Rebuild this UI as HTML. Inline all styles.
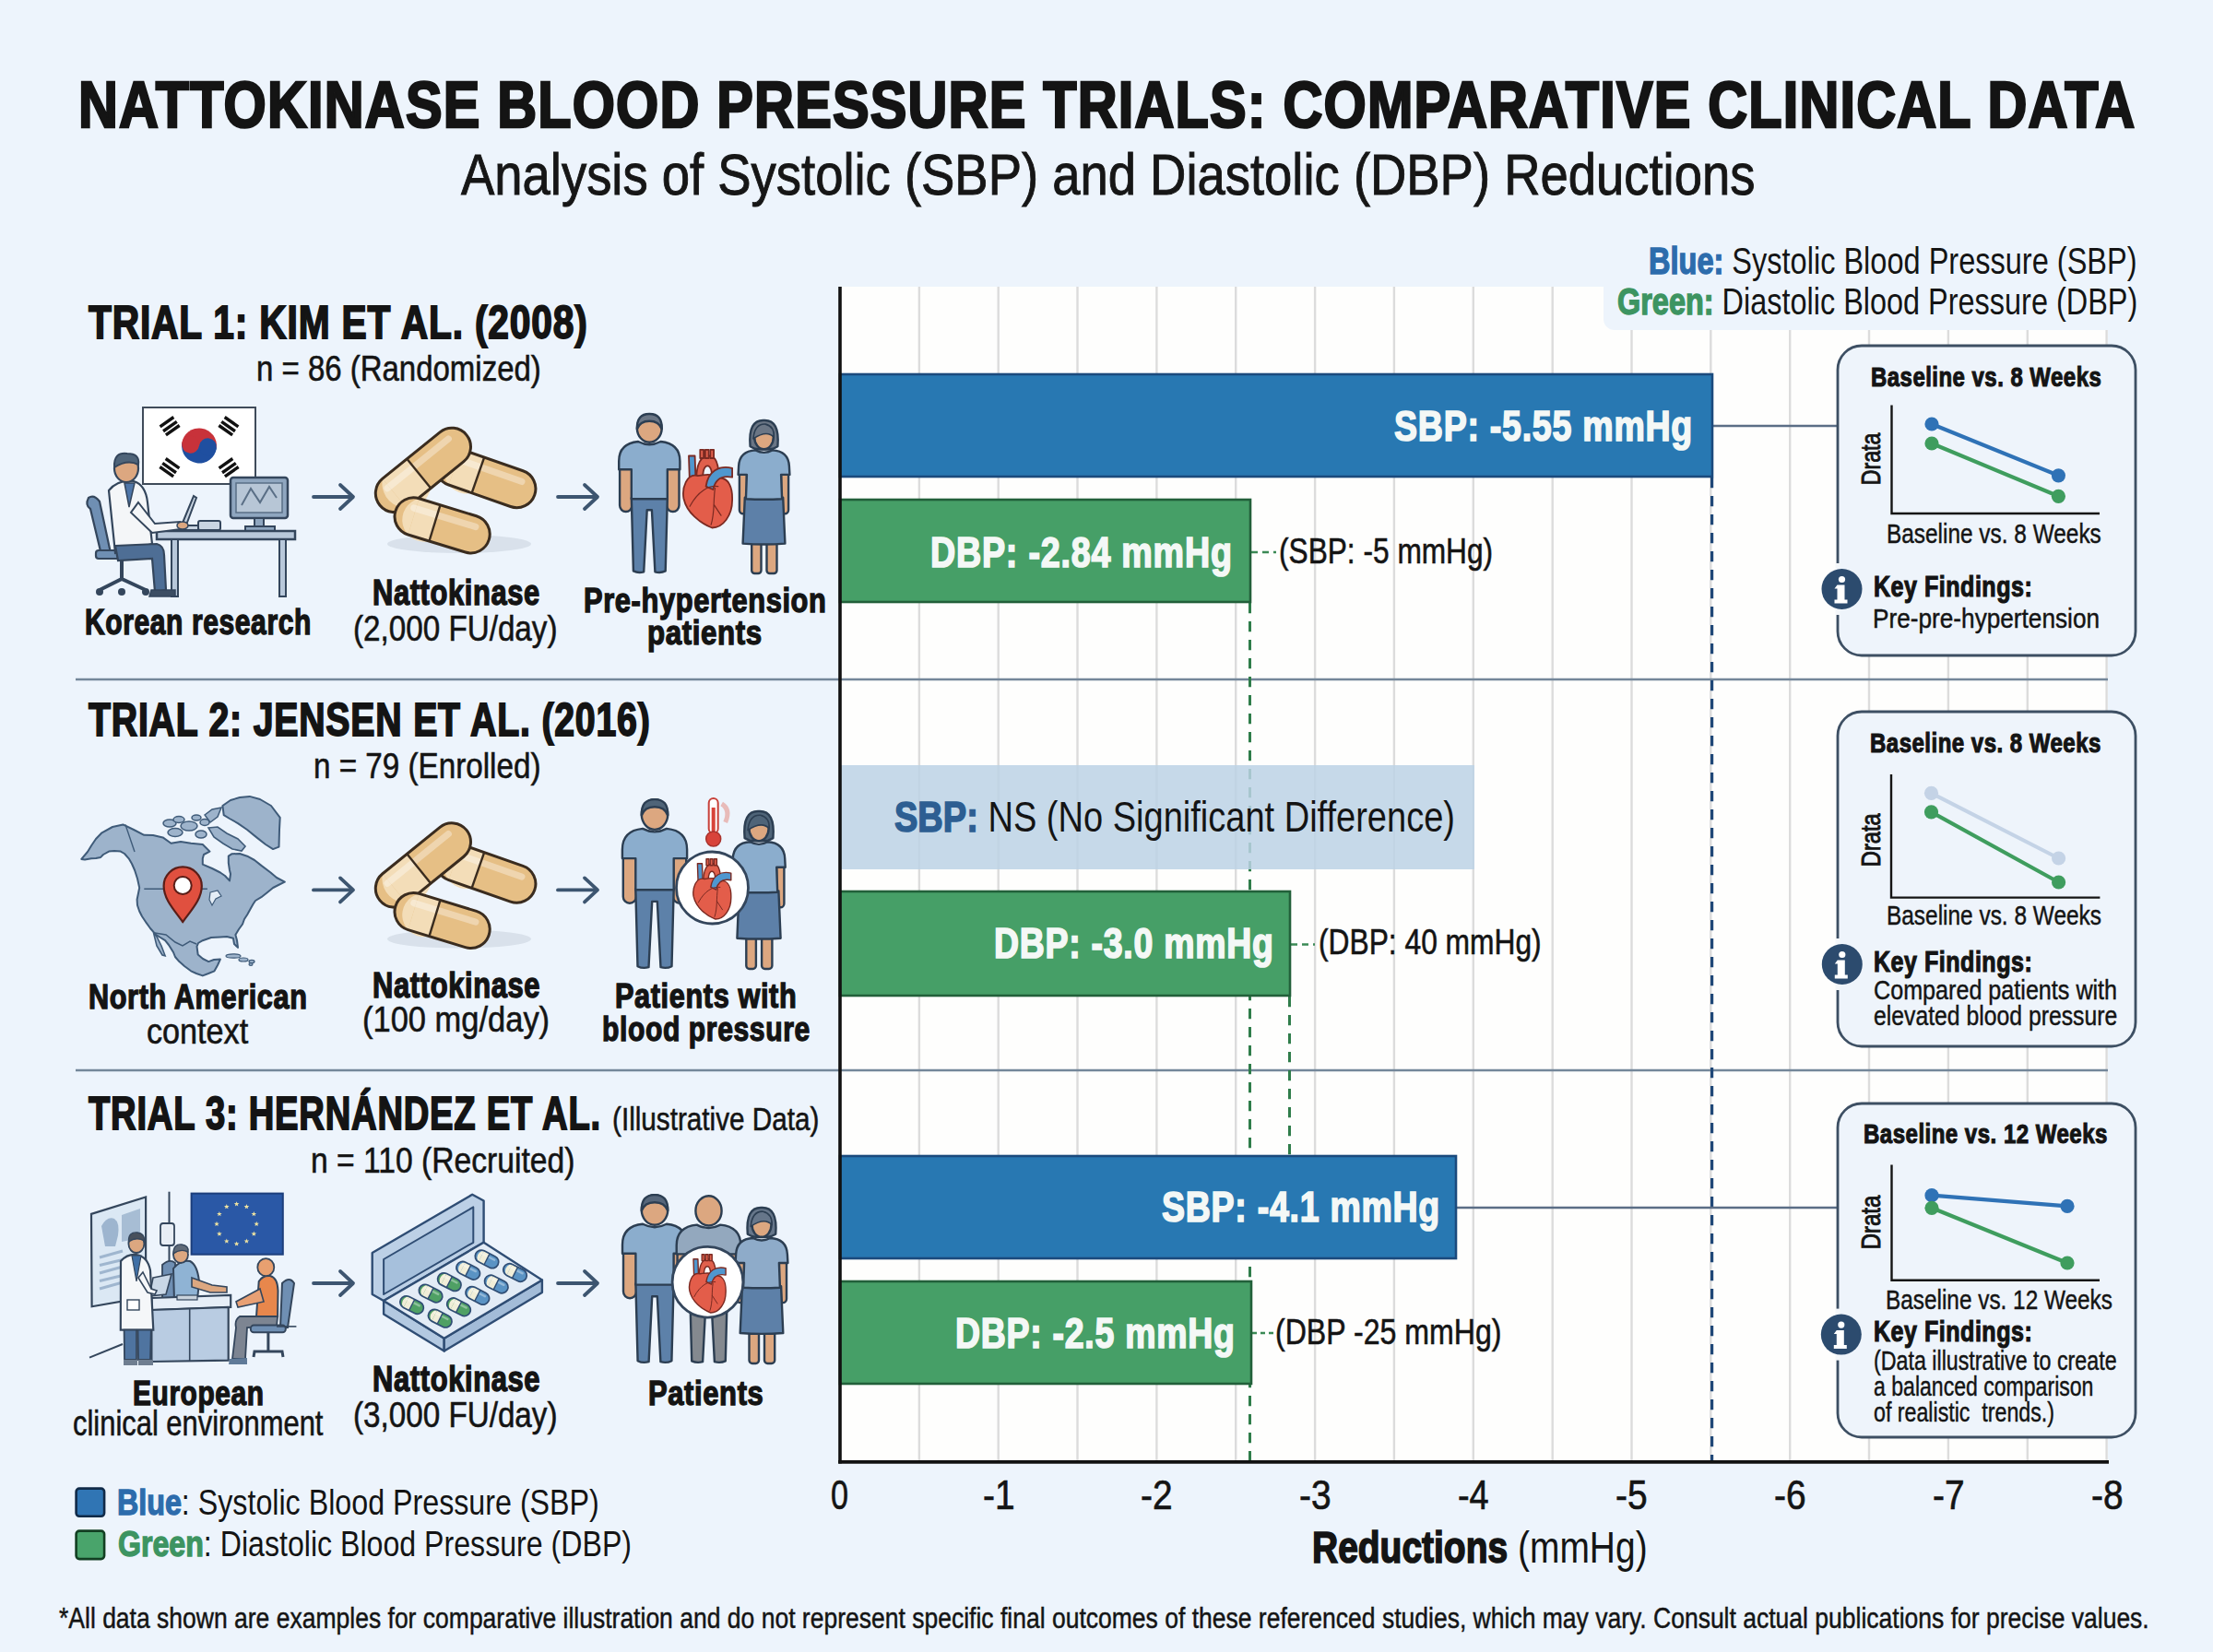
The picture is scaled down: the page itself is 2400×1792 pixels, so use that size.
<!DOCTYPE html>
<html><head><meta charset="utf-8"><style>
html,body{margin:0;padding:0;}
body{width:2400px;height:1792px;position:relative;overflow:hidden;background:#edf4fc;font-family:"Liberation Sans",sans-serif;}
.t{position:absolute;white-space:pre;line-height:1;transform-origin:0 0;}
svg{position:absolute;left:0;top:0;}
</style></head><body>
<svg width="2400" height="1792" viewBox="0 0 2400 1792">
<rect x="0.0" y="0.0" width="2400.0" height="1792.0" fill="#edf4fc"/>
<rect x="911.0" y="311.0" width="1375.0" height="1274.0" fill="#fefefd"/>
<rect x="1739.0" y="270.0" width="640.0" height="88.0" fill="#edf4fc" rx="12.0"/>
<line x1="996.9" y1="311.0" x2="996.9" y2="1585.0" stroke="#dcdcdc" stroke-width="2.4" stroke-linecap="butt"/>
<line x1="1082.7" y1="311.0" x2="1082.7" y2="1585.0" stroke="#dcdcdc" stroke-width="2.4" stroke-linecap="butt"/>
<line x1="1168.5" y1="311.0" x2="1168.5" y2="1585.0" stroke="#dcdcdc" stroke-width="2.4" stroke-linecap="butt"/>
<line x1="1254.4" y1="311.0" x2="1254.4" y2="1585.0" stroke="#dcdcdc" stroke-width="2.4" stroke-linecap="butt"/>
<line x1="1340.2" y1="311.0" x2="1340.2" y2="1585.0" stroke="#dcdcdc" stroke-width="2.4" stroke-linecap="butt"/>
<line x1="1426.1" y1="311.0" x2="1426.1" y2="1585.0" stroke="#dcdcdc" stroke-width="2.4" stroke-linecap="butt"/>
<line x1="1511.9" y1="311.0" x2="1511.9" y2="1585.0" stroke="#dcdcdc" stroke-width="2.4" stroke-linecap="butt"/>
<line x1="1597.8" y1="311.0" x2="1597.8" y2="1585.0" stroke="#dcdcdc" stroke-width="2.4" stroke-linecap="butt"/>
<line x1="1683.7" y1="311.0" x2="1683.7" y2="1585.0" stroke="#dcdcdc" stroke-width="2.4" stroke-linecap="butt"/>
<line x1="1769.5" y1="358.0" x2="1769.5" y2="1585.0" stroke="#dcdcdc" stroke-width="2.4" stroke-linecap="butt"/>
<line x1="1855.3" y1="358.0" x2="1855.3" y2="1585.0" stroke="#dcdcdc" stroke-width="2.4" stroke-linecap="butt"/>
<line x1="1941.2" y1="358.0" x2="1941.2" y2="1585.0" stroke="#dcdcdc" stroke-width="2.4" stroke-linecap="butt"/>
<line x1="2027.0" y1="358.0" x2="2027.0" y2="1585.0" stroke="#dcdcdc" stroke-width="2.4" stroke-linecap="butt"/>
<line x1="2112.9" y1="358.0" x2="2112.9" y2="1585.0" stroke="#dcdcdc" stroke-width="2.4" stroke-linecap="butt"/>
<line x1="2198.8" y1="358.0" x2="2198.8" y2="1585.0" stroke="#dcdcdc" stroke-width="2.4" stroke-linecap="butt"/>
<line x1="2284.6" y1="358.0" x2="2284.6" y2="1585.0" stroke="#dcdcdc" stroke-width="2.4" stroke-linecap="butt"/>
<line x1="82.0" y1="737.0" x2="2286.0" y2="737.0" stroke="#74879a" stroke-width="2.4" stroke-linecap="butt"/>
<line x1="82.0" y1="1161.0" x2="2286.0" y2="1161.0" stroke="#74879a" stroke-width="2.4" stroke-linecap="butt"/>
<line x1="1355.5" y1="654.0" x2="1355.5" y2="1585.0" stroke="#2f7d4a" stroke-width="3.0" stroke-linecap="butt" stroke-dasharray="11.2 8.8"/>
<line x1="1398.5" y1="1081.0" x2="1398.5" y2="1254.0" stroke="#2f7d4a" stroke-width="3.0" stroke-linecap="butt" stroke-dasharray="11.2 8.8"/>
<line x1="1856.6" y1="518.0" x2="1856.6" y2="1585.0" stroke="#1f4777" stroke-width="3.2" stroke-linecap="butt" stroke-dasharray="11.2 8.8"/>
<line x1="1857.0" y1="462.0" x2="1993.0" y2="462.0" stroke="#5b6e86" stroke-width="2.6" stroke-linecap="butt"/>
<line x1="1579.0" y1="1310.0" x2="1993.0" y2="1310.0" stroke="#5b6e86" stroke-width="2.6" stroke-linecap="butt"/>
<line x1="1357.0" y1="599.0" x2="1384.0" y2="599.0" stroke="#3b8a55" stroke-width="2.4" stroke-linecap="butt" stroke-dasharray="7 5"/>
<line x1="1400.0" y1="1024.5" x2="1426.0" y2="1024.5" stroke="#3b8a55" stroke-width="2.4" stroke-linecap="butt" stroke-dasharray="7 5"/>
<line x1="1358.0" y1="1446.0" x2="1382.0" y2="1446.0" stroke="#3b8a55" stroke-width="2.4" stroke-linecap="butt" stroke-dasharray="5 4"/>
<rect x="911.0" y="406.0" width="946.0" height="111.0" fill="#2878b2" stroke="#1b4a7d" stroke-width="2.6"/>
<rect x="911.0" y="542.0" width="445.0" height="111.0" fill="#469f67" stroke="#22603a" stroke-width="2.6"/>
<rect x="911.0" y="830.0" width="688.0" height="113.0" fill="#bcd2e5" opacity="0.85"/>
<rect x="911.0" y="967.0" width="488.0" height="113.0" fill="#469f67" stroke="#22603a" stroke-width="2.6"/>
<rect x="911.0" y="1254.0" width="668.0" height="111.0" fill="#2878b2" stroke="#1b4a7d" stroke-width="2.6"/>
<rect x="911.0" y="1390.0" width="446.0" height="111.0" fill="#469f67" stroke="#22603a" stroke-width="2.6"/>
<line x1="911.0" y1="311.0" x2="911.0" y2="1587.5" stroke="#111111" stroke-width="3.6" stroke-linecap="butt"/>
<line x1="909.2" y1="1585.8" x2="2287.0" y2="1585.8" stroke="#111111" stroke-width="3.8" stroke-linecap="butt"/>
<rect x="1993.0" y="375.0" width="323.0" height="336.0" fill="#eef4fb" rx="26.0" stroke="#3d4f63" stroke-width="2.8"/>
<rect x="1993.0" y="772.0" width="323.0" height="363.0" fill="#eef4fb" rx="26.0" stroke="#3d4f63" stroke-width="2.8"/>
<rect x="1993.0" y="1197.0" width="323.0" height="362.0" fill="#eef4fb" rx="26.0" stroke="#3d4f63" stroke-width="2.8"/>
<polyline points="2051.5,439.5 2051.5,557.0 2277.0,557.0" fill="none" stroke="#141414" stroke-width="2.4"/><line x1="2095.0" y1="460.0" x2="2232.4" y2="515.8" stroke="#2f72b6" stroke-width="4.2" stroke-linecap="round"/><circle cx="2095.0" cy="460.0" r="7.6" fill="#2f72b6"/><circle cx="2232.4" cy="515.8" r="7.6" fill="#2f72b6"/><line x1="2095.0" y1="481.0" x2="2232.4" y2="538.3" stroke="#3f9d5e" stroke-width="4.2" stroke-linecap="round"/><circle cx="2095.0" cy="481.0" r="7.6" fill="#3f9d5e"/><circle cx="2232.4" cy="538.3" r="7.6" fill="#3f9d5e"/>
<polyline points="2051.0,840.0 2051.0,973.6 2277.4,973.6" fill="none" stroke="#141414" stroke-width="2.4"/><line x1="2094.5" y1="860.3" x2="2232.6" y2="931.0" stroke="#c4d3e6" stroke-width="4.2" stroke-linecap="round"/><circle cx="2094.5" cy="860.3" r="7.6" fill="#c4d3e6"/><circle cx="2232.6" cy="931.0" r="7.6" fill="#c4d3e6"/><line x1="2094.5" y1="880.8" x2="2232.6" y2="957.0" stroke="#3f9d5e" stroke-width="4.2" stroke-linecap="round"/><circle cx="2094.5" cy="880.8" r="7.6" fill="#3f9d5e"/><circle cx="2232.6" cy="957.0" r="7.6" fill="#3f9d5e"/>
<polyline points="2051.5,1263.6 2051.5,1388.8 2277.0,1388.8" fill="none" stroke="#141414" stroke-width="2.4"/><line x1="2095.0" y1="1296.7" x2="2242.0" y2="1308.4" stroke="#2f72b6" stroke-width="4.2" stroke-linecap="round"/><circle cx="2095.0" cy="1296.7" r="7.6" fill="#2f72b6"/><circle cx="2242.0" cy="1308.4" r="7.6" fill="#2f72b6"/><line x1="2095.0" y1="1310.3" x2="2242.0" y2="1370.0" stroke="#3f9d5e" stroke-width="4.2" stroke-linecap="round"/><circle cx="2095.0" cy="1310.3" r="7.6" fill="#3f9d5e"/><circle cx="2242.0" cy="1370.0" r="7.6" fill="#3f9d5e"/>
<rect x="1990.5" y="611.0" width="5" height="56.0" fill="#f4f7fa"/><circle cx="1997.5" cy="639.0" r="22.0" fill="#2c4b6e"/><circle cx="1997.5" cy="628.5" r="3.6" fill="#ffffff"/><path d="M 1992.5 634.5 h 8 v 16 h 3 v 4 h -14 v -4 h 3 v -12 h -3 z" fill="#ffffff"/>
<rect x="1990.5" y="1018.0" width="5" height="56.0" fill="#f4f7fa"/><circle cx="1997.8" cy="1046.0" r="22.0" fill="#2c4b6e"/><circle cx="1997.8" cy="1035.5" r="3.6" fill="#ffffff"/><path d="M 1992.8 1041.5 h 8 v 16 h 3 v 4 h -14 v -4 h 3 v -12 h -3 z" fill="#ffffff"/>
<rect x="1990.5" y="1419.6" width="5" height="56.0" fill="#f4f7fa"/><circle cx="1996.8" cy="1447.6" r="22.0" fill="#2c4b6e"/><circle cx="1996.8" cy="1437.1" r="3.6" fill="#ffffff"/><path d="M 1991.8 1443.1 h 8 v 16 h 3 v 4 h -14 v -4 h 3 v -12 h -3 z" fill="#ffffff"/>
<rect x="82.6" y="1614.6" width="30.5" height="30.2" fill="#3075b4" rx="3.5" stroke="#102a48" stroke-width="2.6"/>
<rect x="82.6" y="1660.6" width="30.5" height="30.5" fill="#49a46b" rx="3.5" stroke="#123f22" stroke-width="2.6"/>
<g stroke="#3d5570" stroke-width="3.8" fill="none" stroke-linecap="round" stroke-linejoin="round"><line x1="340.0" y1="539.0" x2="382.0" y2="539.0"/><polyline points="369.0,526.0 383.0,539.0 369.0,552.0"/></g>
<g stroke="#3d5570" stroke-width="3.8" fill="none" stroke-linecap="round" stroke-linejoin="round"><line x1="605.0" y1="539.0" x2="647.0" y2="539.0"/><polyline points="634.0,526.0 648.0,539.0 634.0,552.0"/></g>
<g stroke="#3d5570" stroke-width="3.8" fill="none" stroke-linecap="round" stroke-linejoin="round"><line x1="340.0" y1="965.4" x2="382.0" y2="965.4"/><polyline points="369.0,952.4 383.0,965.4 369.0,978.4"/></g>
<g stroke="#3d5570" stroke-width="3.8" fill="none" stroke-linecap="round" stroke-linejoin="round"><line x1="605.0" y1="965.4" x2="647.0" y2="965.4"/><polyline points="634.0,952.4 648.0,965.4 634.0,978.4"/></g>
<g stroke="#3d5570" stroke-width="3.8" fill="none" stroke-linecap="round" stroke-linejoin="round"><line x1="340.0" y1="1392.0" x2="382.0" y2="1392.0"/><polyline points="369.0,1379.0 383.0,1392.0 369.0,1405.0"/></g>
<g stroke="#3d5570" stroke-width="3.8" fill="none" stroke-linecap="round" stroke-linejoin="round"><line x1="605.0" y1="1392.0" x2="647.0" y2="1392.0"/><polyline points="634.0,1379.0 648.0,1392.0 634.0,1405.0"/></g>
<rect x="155.0" y="442.0" width="122.0" height="83.0" fill="#ffffff" stroke="#3f4b5a" stroke-width="2.0"/><path d="M 197.0 483.5 A 19.0 19.0 0 0 1 235.0 483.5 Z" fill="#c8323a" transform="rotate(8 216.0 483.5)"/><path d="M 197.0 483.5 A 19.0 19.0 0 0 0 235.0 483.5 Z" fill="#1f4fa0" transform="rotate(8 216.0 483.5)"/><circle cx="206.5" cy="483.5" r="9.5" fill="#c8323a" transform="rotate(8 216.0 483.5)"/><circle cx="225.5" cy="483.5" r="9.5" fill="#1f4fa0" transform="rotate(8 216.0 483.5)"/><g transform="translate(184 462) rotate(-35)"><rect x="-9" y="-7" width="18" height="3.4" fill="#111"/><rect x="-9" y="-1" width="18" height="3.4" fill="#111"/><rect x="-9" y="4" width="18" height="3.4" fill="#111"/></g><g transform="translate(248 462) rotate(35)"><rect x="-9" y="-7" width="18" height="3.4" fill="#111"/><rect x="-9" y="-1" width="18" height="3.4" fill="#111"/><rect x="-9" y="4" width="18" height="3.4" fill="#111"/></g><g transform="translate(184 507) rotate(35)"><rect x="-9" y="-7" width="18" height="3.4" fill="#111"/><rect x="-9" y="-1" width="18" height="3.4" fill="#111"/><rect x="-9" y="4" width="18" height="3.4" fill="#111"/></g><g transform="translate(248 507) rotate(-35)"><rect x="-9" y="-7" width="18" height="3.4" fill="#111"/><rect x="-9" y="-1" width="18" height="3.4" fill="#111"/><rect x="-9" y="4" width="18" height="3.4" fill="#111"/></g><rect x="250.0" y="518.0" width="62.0" height="44.0" fill="#8fa6bf" rx="3.0" stroke="#34465c" stroke-width="2.5"/><rect x="256.0" y="524.0" width="50.0" height="32.0" fill="#b7c6d6" stroke="#5a6f86" stroke-width="1.5"/><path d="M 262 548 L 272 530 L 282 545 L 292 528 L 300 540" fill="none" stroke="#5a6f86" stroke-width="2"/><rect x="276.0" y="562.0" width="10.0" height="10.0" fill="#8fa6bf" stroke="#34465c" stroke-width="2.0"/><rect x="266.0" y="571.0" width="32.0" height="5.0" fill="#8fa6bf" stroke="#34465c" stroke-width="2.0"/><rect x="170.0" y="576.0" width="150.0" height="9.0" fill="#b8c8da" stroke="#34465c" stroke-width="2.5"/><rect x="186.0" y="585.0" width="7.0" height="62.0" fill="#b8c8da" stroke="#34465c" stroke-width="2.0"/><rect x="303.0" y="585.0" width="7.0" height="62.0" fill="#b8c8da" stroke="#34465c" stroke-width="2.0"/><rect x="215.0" y="565.0" width="24.0" height="10.0" fill="#c9d5e2" rx="2.0" stroke="#34465c" stroke-width="2.0"/><path d="M 196 572 L 210 538 L 213 540 L 201 572 Z" fill="#c9d5e2" stroke="#34465c" stroke-width="2"/><rect x="175.0" y="570.0" width="40.0" height="5.0" fill="#c9d5e2" stroke="#34465c" stroke-width="2.0"/><path d="M 98 552 Q 92 548 96 540 Q 102 536 108 544 L 120 600 L 110 602 Z" fill="#6f8fb3" stroke="#34465c" stroke-width="2.2"/><rect x="104.0" y="597.0" width="60.0" height="9.0" fill="#6f8fb3" rx="3.0" stroke="#34465c" stroke-width="2.2"/><line x1="132.0" y1="606.0" x2="132.0" y2="630.0" stroke="#34465c" stroke-width="4.0" stroke-linecap="butt"/><path d="M 108 640 L 132 628 L 158 640" fill="none" stroke="#34465c" stroke-width="4"/><circle cx="108" cy="642" r="4" fill="#34465c"/><circle cx="158" cy="642" r="4" fill="#34465c"/><circle cx="132" cy="642" r="4" fill="#34465c"/><path d="M 118 532 Q 128 520 145 522 Q 158 526 160 545 L 165 590 L 125 600 Z" fill="#f4f6f8" stroke="#34465c" stroke-width="2.2"/><path d="M 135 524 L 140 550 L 146 524 Z" fill="#4f76a8" stroke="#34465c" stroke-width="1.5"/><path d="M 150 545 L 168 568 L 195 566 L 196 574 L 165 578 L 142 556 Z" fill="#f4f6f8" stroke="#34465c" stroke-width="2"/><ellipse cx="198" cy="570" rx="6" ry="4" fill="#dca780" stroke="#34465c" stroke-width="1.5"/><path d="M 125 592 L 170 590 Q 178 592 178 602 L 180 640 L 168 642 L 165 606 L 128 608 Z" fill="#4e6e95" stroke="#34465c" stroke-width="2.2"/><path d="M 164 640 L 190 640 L 190 647 L 162 647 Z" fill="#3d4e63" stroke="#34465c" stroke-width="1.5"/><ellipse cx="137" cy="508" rx="13" ry="15" fill="#dca780" stroke="#34465c" stroke-width="2.2"/><path d="M 124 507 Q 123 490 138 492 Q 152 492 150 504 Q 138 498 124 507 Z" fill="#4f6479" stroke="#34465c" stroke-width="2"/>
<g transform="translate(0.0 0.0)"><ellipse cx="498" cy="590" rx="78" ry="10" fill="#d3dce6" opacity="0.8"/><g transform="translate(526.9 518.4) rotate(19.3)"><rect x="-56.0" y="-20.5" width="112.0" height="41.0" rx="20.5" fill="#e6bf85"/><path d="M -9.0 -20.5 L -35.5 -20.5 L -35.5 20.5 L -9.0 20.5 A 20.5 20.5 0 0 1 -35.5 -20.5 Z" fill="#f3ddb8"/><path d="M -35.5 -20.5 L -9.0 -20.5 L -9.0 20.5 L -35.5 20.5 Z" fill="#f3ddb8"/><rect x="-41.6" y="-12.7" width="83.3" height="7.2" rx="3.5" fill="#ffffff" opacity="0.35"/><rect x="-56.0" y="-20.5" width="112.0" height="41.0" rx="20.5" fill="none" stroke="#3a2c1f" stroke-width="3.0"/><line x1="-9.0" y1="-20.5" x2="-9.0" y2="20.5" stroke="#3a2c1f" stroke-width="2.4"/></g><g transform="translate(458.9 509.9) rotate(-39.0)"><rect x="-60.5" y="-20.5" width="121.0" height="41.0" rx="20.5" fill="#e6bf85"/><path d="M -6.0 -20.5 L -40.0 -20.5 L -40.0 20.5 L -6.0 20.5 A 20.5 20.5 0 0 1 -40.0 -20.5 Z" fill="#f3ddb8"/><path d="M -40.0 -20.5 L -6.0 -20.5 L -6.0 20.5 L -40.0 20.5 Z" fill="#f3ddb8"/><rect x="-46.1" y="-12.7" width="92.3" height="7.2" rx="3.5" fill="#ffffff" opacity="0.35"/><rect x="-60.5" y="-20.5" width="121.0" height="41.0" rx="20.5" fill="none" stroke="#3a2c1f" stroke-width="3.0"/><line x1="-6.0" y1="-20.5" x2="-6.0" y2="20.5" stroke="#3a2c1f" stroke-width="2.4"/></g><g transform="translate(479.6 569.9) rotate(17.0)"><rect x="-53.0" y="-20.5" width="106.0" height="41.0" rx="20.5" fill="#e6bf85"/><path d="M -8.5 -20.5 L -32.5 -20.5 L -32.5 20.5 L -8.5 20.5 A 20.5 20.5 0 0 1 -32.5 -20.5 Z" fill="#f3ddb8"/><path d="M -32.5 -20.5 L -8.5 -20.5 L -8.5 20.5 L -32.5 20.5 Z" fill="#f3ddb8"/><rect x="-38.6" y="-12.7" width="77.3" height="7.2" rx="3.5" fill="#ffffff" opacity="0.35"/><rect x="-53.0" y="-20.5" width="106.0" height="41.0" rx="20.5" fill="none" stroke="#3a2c1f" stroke-width="3.0"/><line x1="-8.5" y1="-20.5" x2="-8.5" y2="20.5" stroke="#3a2c1f" stroke-width="2.4"/></g></g>
<g stroke="#2c3e52" stroke-width="2.4" stroke-linejoin="round" stroke-linecap="round"><rect x="672.1" y="500.2" width="13.4" height="54.8" rx="6.7" fill="#dca780"/><rect x="723.1" y="500.2" width="13.4" height="54.8" rx="6.7" fill="#dca780"/><path d="M 684.8 540.2 L 723.8 540.2 L 721.7 619.4 Q 716.5 622.0 710.4 620.3 L 706.9 553.3 L 701.7 553.3 L 698.2 620.3 Q 692.1 622.0 686.9 619.4 Z" fill="#5d81a9"/><path d="M 692.1 479.0 Q 671.2 481.1 671.2 500.2 L 671.2 509.2 L 684.8 509.2 L 684.8 541.3 L 723.8 541.3 L 723.8 509.2 L 737.4 509.2 L 737.4 500.2 Q 737.4 481.1 716.5 479.0 Q 704.3 485.4 692.1 479.0 Z" fill="#8badcd"/><ellipse cx="704.3" cy="464.5" rx="13.4" ry="15.3" fill="#dca780"/><path d="M 690.9 465.4 Q 690.4 448.9 704.3 449.0 Q 718.2 448.9 717.7 465.4 Q 714.7 456.7 704.3 456.7 Q 693.9 456.7 690.9 465.4 Z" fill="#6b7685"/></g>
<g stroke="#2c3e52" stroke-width="2.4" stroke-linejoin="round" stroke-linecap="round"><rect x="815.2" y="585.5" width="10.3" height="36.5" rx="3.3" fill="#dca780"/><rect x="831.5" y="585.5" width="11.0" height="36.5" rx="3.3" fill="#dca780"/><rect x="801.9" y="509.1" width="8.0" height="48.1" rx="4.0" fill="#dca780"/><rect x="847.1" y="509.1" width="8.0" height="48.1" rx="4.0" fill="#dca780"/><path d="M 807.8 539.8 L 849.2 539.8 L 851.4 589.6 Q 828.5 591.3 805.6 589.6 Z" fill="#5d80a8"/><path d="M 819.4 488.4 Q 801.9 489.2 801.1 505.8 L 800.6 514.9 L 809.9 514.9 L 808.9 541.2 Q 828.5 542.3 848.1 541.2 L 847.1 514.9 L 856.4 514.9 L 855.9 505.8 Q 855.1 489.2 837.6 488.4 Q 828.5 493.4 819.4 488.4 Z" fill="#8badcd"/><path d="M 813.6 484.2 Q 811.1 455.2 828.5 456.0 Q 845.9 455.2 843.4 484.2 L 838.5 486.7 Q 828.5 488.4 818.5 486.7 Z" fill="#6b7685"/><ellipse cx="828.5" cy="474.3" rx="10.3" ry="12.9" fill="#dca780"/><path d="M 816.9 475.9 Q 818.5 459.3 830.2 460.1 Q 840.1 462.6 839.3 474.3 Q 831.8 466.0 816.9 475.9 Z" fill="#6b7685" stroke-width="1.6"/></g>
<g stroke="#7b2a22" stroke-width="1.8" stroke-linejoin="round" stroke-linecap="round"><path d="M 747.0,494.5 L 753.6,494.5 L 754.7,527.7 L 748.1,527.7 Z" fill="#4f97cf"/><path d="M 755.7,526.0 C 753.6,502.8 761.2,492.8 770.0,494.5 C 778.8,496.1 780.9,511.1 777.7,526.0 L 771.1,526.0 C 773.3,512.7 771.1,505.3 767.3,505.3 C 762.9,505.3 761.2,514.4 762.9,526.0 Z" fill="#e0604c"/><path d="M 759.3,497.0 L 759.3,487.8 L 763.1,487.8 L 763.1,497.0 Z" fill="#e0604c"/><path d="M 764.8,497.0 L 764.8,487.8 L 768.6,487.8 L 768.6,497.0 Z" fill="#e0604c"/><path d="M 770.3,497.0 L 770.3,487.8 L 774.1,487.8 L 774.1,497.0 Z" fill="#e0604c"/><path d="M 756.8,516.1 C 744.8,512.7 739.3,529.3 741.5,541.0 C 744.8,555.9 759.0,567.5 772.2,572.5 C 784.2,572.5 794.1,559.2 794.1,542.6 C 794.6,527.7 789.7,519.4 782.0,518.5 C 775.5,514.4 765.6,514.4 756.8,516.1 Z" fill="#e35d4a"/><path d="M 765.6,527.7 C 767.8,511.1 779.9,504.4 794.1,507.8 L 794.1,517.7 C 782.0,515.2 775.5,521.0 773.3,531.0 Z" fill="#4f97cf"/><path d="M 748.1,549.3 C 756.8,532.7 768.9,526.0 778.8,527.7" fill="none" stroke-width="1.2"/><path d="M 775.5,529.3 C 773.3,542.6 775.5,555.9 771.1,569.2 M 774.4,547.6 L 782.0,559.2" fill="none" stroke-width="1.2"/></g>
<path d="M 88.3 931.9 L 95 924 L 99.1 917.3 L 104 910 L 110.5 903.3 L 122 897 L 133.4 894.4 L 145 900 L 156.3 905.8 L 166 906 L 176.6 908.4 L 185.5 914.7 L 196 913 L 207.1 914.7 L 219.8 916 L 227.5 923.6 L 221 927 L 219.8 931.3 L 219.8 937.6 L 230 942 L 238.9 946.5 L 244 950 L 249 955.4 L 250 948 L 249 944 L 247.8 936 L 247.8 928.7 L 251.6 926.2 L 260 926 L 268.1 928.7 L 276 933 L 283.4 938.9 L 293.5 946.5 L 300 952 L 308.8 956.7 L 302 960 L 296.1 963 L 290 968 L 283.4 973.2 L 277 977 L 274.5 980.8 L 271 987 L 268.1 992.3 L 265 997 L 263 1002.5 L 259 1008 L 255.4 1013.9 L 257 1020 L 258 1027.9 L 254 1024 L 252.9 1017.7 L 246 1016 L 238.9 1016.4 L 229 1017 L 219.8 1020.2 L 215 1023 L 213.5 1026.6 L 214.7 1035.5 L 220 1040 L 226.2 1043.1 L 232 1041 L 238.9 1040.6 L 236 1047 L 232.5 1053.3 L 226 1056 L 219.8 1058.4 L 213 1056 L 207.1 1053.3 L 200 1048 L 194.4 1043.1 L 190 1038 L 188 1033 L 183 1025 L 179.1 1020.2 L 174 1017 L 169 1013.9 L 163 1007 L 158.8 1001.2 L 154 994 L 151.2 988.5 L 149 982 L 148.6 975.8 L 150 969 L 151.2 963 L 149 953 L 146.1 944 L 143 937 L 139.7 931.3 L 135 926 L 130.8 923.6 L 124 923 L 118.1 923.6 L 112 927 L 109.2 929.9 L 104 931 L 99.1 931.3 L 92 932.5 Z" fill="#9db3cb" stroke="#3f5b79" stroke-width="2" stroke-linejoin="round"/><path d="M 166.4 1011.4 L 170 1016 L 175 1026 L 179.1 1036.8 L 176 1036 L 170 1026 Z" fill="#9db3cb" stroke="#3f5b79" stroke-width="1.6"/><ellipse cx="184.0" cy="893.0" rx="7.0" ry="4.0" fill="#9db3cb" stroke="#3f5b79" stroke-width="1.5"/><ellipse cx="194.0" cy="889.0" rx="6.0" ry="3.5" fill="#9db3cb" stroke="#3f5b79" stroke-width="1.5"/><ellipse cx="205.0" cy="896.0" rx="9.0" ry="5.0" fill="#9db3cb" stroke="#3f5b79" stroke-width="1.5"/><ellipse cx="190.0" cy="903.0" rx="8.0" ry="4.5" fill="#9db3cb" stroke="#3f5b79" stroke-width="1.5"/><ellipse cx="213.0" cy="887.0" rx="5.0" ry="3.0" fill="#9db3cb" stroke="#3f5b79" stroke-width="1.5"/><ellipse cx="222.0" cy="892.0" rx="5.0" ry="3.5" fill="#9db3cb" stroke="#3f5b79" stroke-width="1.5"/><ellipse cx="218.0" cy="905.0" rx="6.0" ry="4.0" fill="#9db3cb" stroke="#3f5b79" stroke-width="1.5"/><path d="M 226 898 L 236 897 L 246 904 L 258 910 L 266 918 L 262 923 L 252 921 L 242 915 L 232 908 Z" fill="#9db3cb" stroke="#3f5b79" stroke-width="1.6"/><path d="M 222 884 L 230 878 L 240 876 L 236 886 L 228 892 Z" fill="#9db3cb" stroke="#3f5b79" stroke-width="1.5"/><path d="M 241.4 874 L 250 868 L 260 865 L 270.7 863.9 L 282 867 L 294 874 L 303.7 886.8 L 303 900 L 302.5 918.6 L 296.1 921.1 L 288 916 L 278.3 908.4 L 268 900 L 258 893.1 L 249 888 L 242.7 884.2 Z" fill="#9db3cb" stroke="#3f5b79" stroke-width="2" stroke-linejoin="round"/><ellipse cx="253.0" cy="1037.0" rx="8.0" ry="2.2" fill="#9db3cb" stroke="#3f5b79" stroke-width="1.2"/><ellipse cx="264.0" cy="1041.0" rx="5.0" ry="2.0" fill="#9db3cb" stroke="#3f5b79" stroke-width="1.2"/><ellipse cx="273.0" cy="1043.0" rx="3.0" ry="1.6" fill="#9db3cb" stroke="#3f5b79" stroke-width="1.2"/><ellipse cx="272.0" cy="1046.0" rx="2.0" ry="1.4" fill="#9db3cb" stroke="#3f5b79" stroke-width="1.2"/><path d="M 156.3 964.3 L 224.9 964.3" fill="none" stroke="#3f5b79" stroke-width="1.5"/><path d="M 136 894.5 L 146 924" fill="none" stroke="#3f5b79" stroke-width="1.4"/><path d="M 168 1012 L 180 1014 L 190 1022 L 198 1026 L 206 1021 L 213 1024" fill="none" stroke="#3f5b79" stroke-width="1.5"/><path d="M 228 968 L 236 966 L 240 972 L 234 975 L 230 982 L 227 976 Z" fill="#e4edf6" stroke="#3f5b79" stroke-width="1.2"/><path d="M 198.2 1000 C 188 986 177.6 975 177.6 961 A 20.6 20.6 0 1 1 218.8 961 C 218.8 975 208.4 986 198.2 1000 Z" fill="#e0503f" stroke="#5a1e18" stroke-width="2.2"/><circle cx="198.2" cy="960.5" r="9.5" fill="#ffffff" stroke="#5a1e18" stroke-width="2"/>
<g transform="translate(0.0 428.6)"><ellipse cx="498" cy="590" rx="78" ry="10" fill="#d3dce6" opacity="0.8"/><g transform="translate(526.9 518.4) rotate(19.3)"><rect x="-56.0" y="-20.5" width="112.0" height="41.0" rx="20.5" fill="#e6bf85"/><path d="M -9.0 -20.5 L -35.5 -20.5 L -35.5 20.5 L -9.0 20.5 A 20.5 20.5 0 0 1 -35.5 -20.5 Z" fill="#f3ddb8"/><path d="M -35.5 -20.5 L -9.0 -20.5 L -9.0 20.5 L -35.5 20.5 Z" fill="#f3ddb8"/><rect x="-41.6" y="-12.7" width="83.3" height="7.2" rx="3.5" fill="#ffffff" opacity="0.35"/><rect x="-56.0" y="-20.5" width="112.0" height="41.0" rx="20.5" fill="none" stroke="#3a2c1f" stroke-width="3.0"/><line x1="-9.0" y1="-20.5" x2="-9.0" y2="20.5" stroke="#3a2c1f" stroke-width="2.4"/></g><g transform="translate(458.9 509.9) rotate(-39.0)"><rect x="-60.5" y="-20.5" width="121.0" height="41.0" rx="20.5" fill="#e6bf85"/><path d="M -6.0 -20.5 L -40.0 -20.5 L -40.0 20.5 L -6.0 20.5 A 20.5 20.5 0 0 1 -40.0 -20.5 Z" fill="#f3ddb8"/><path d="M -40.0 -20.5 L -6.0 -20.5 L -6.0 20.5 L -40.0 20.5 Z" fill="#f3ddb8"/><rect x="-46.1" y="-12.7" width="92.3" height="7.2" rx="3.5" fill="#ffffff" opacity="0.35"/><rect x="-60.5" y="-20.5" width="121.0" height="41.0" rx="20.5" fill="none" stroke="#3a2c1f" stroke-width="3.0"/><line x1="-6.0" y1="-20.5" x2="-6.0" y2="20.5" stroke="#3a2c1f" stroke-width="2.4"/></g><g transform="translate(479.6 569.9) rotate(17.0)"><rect x="-53.0" y="-20.5" width="106.0" height="41.0" rx="20.5" fill="#e6bf85"/><path d="M -8.5 -20.5 L -32.5 -20.5 L -32.5 20.5 L -8.5 20.5 A 20.5 20.5 0 0 1 -32.5 -20.5 Z" fill="#f3ddb8"/><path d="M -32.5 -20.5 L -8.5 -20.5 L -8.5 20.5 L -32.5 20.5 Z" fill="#f3ddb8"/><rect x="-38.6" y="-12.7" width="77.3" height="7.2" rx="3.5" fill="#ffffff" opacity="0.35"/><rect x="-53.0" y="-20.5" width="106.0" height="41.0" rx="20.5" fill="none" stroke="#3a2c1f" stroke-width="3.0"/><line x1="-8.5" y1="-20.5" x2="-8.5" y2="20.5" stroke="#3a2c1f" stroke-width="2.4"/></g></g>
<g stroke="#2c3e52" stroke-width="2.4" stroke-linejoin="round" stroke-linecap="round"><rect x="675.8" y="921.5" width="14.2" height="58.3" rx="7.1" fill="#dca780"/><rect x="730.0" y="921.5" width="14.2" height="58.3" rx="7.1" fill="#dca780"/><path d="M 689.3 964.0 L 730.7 964.0 L 728.5 1048.2 Q 723.0 1051.0 716.5 1049.2 L 712.8 977.9 L 707.2 977.9 L 703.5 1049.2 Q 697.0 1051.0 691.5 1048.2 Z" fill="#5d81a9"/><path d="M 697.0 898.9 Q 674.9 901.1 674.9 921.5 L 674.9 931.1 L 689.3 931.1 L 689.3 965.2 L 730.7 965.2 L 730.7 931.1 L 745.1 931.1 L 745.1 921.5 Q 745.1 901.1 723.0 898.9 Q 710.0 905.8 697.0 898.9 Z" fill="#8badcd"/><ellipse cx="710.0" cy="883.6" rx="14.2" ry="16.3" fill="#dca780"/><path d="M 695.8 884.5 Q 695.2 866.9 710.0 867.1 Q 724.8 866.9 724.2 884.5 Q 721.1 875.2 710.0 875.2 Q 698.9 875.2 695.8 884.5 Z" fill="#4f6478"/></g>
<g stroke="#2c3e52" stroke-width="2.4" stroke-linejoin="round" stroke-linecap="round"><rect x="809.3" y="1013.4" width="10.6" height="37.6" rx="3.4" fill="#dca780"/><rect x="826.1" y="1013.4" width="11.3" height="37.6" rx="3.4" fill="#dca780"/><rect x="795.6" y="934.7" width="8.2" height="49.6" rx="4.1" fill="#dca780"/><rect x="842.2" y="934.7" width="8.2" height="49.6" rx="4.1" fill="#dca780"/><path d="M 801.6 966.4 L 844.4 966.4 L 846.6 1017.7 Q 823.0 1019.4 799.4 1017.7 Z" fill="#5d80a8"/><path d="M 813.6 913.3 Q 795.6 914.2 794.8 931.3 L 794.3 940.7 L 803.8 940.7 L 802.8 967.7 Q 823.0 968.9 843.2 967.7 L 842.2 940.7 L 851.7 940.7 L 851.2 931.3 Q 850.4 914.2 832.4 913.3 Q 823.0 918.5 813.6 913.3 Z" fill="#8badcd"/><path d="M 807.6 909.1 Q 805.0 879.1 823.0 880.0 Q 841.0 879.1 838.4 909.1 L 833.3 911.6 Q 823.0 913.3 812.7 911.6 Z" fill="#4f6478"/><ellipse cx="823.0" cy="898.8" rx="10.6" ry="13.3" fill="#dca780"/><path d="M 811.0 900.5 Q 812.7 883.4 824.7 884.3 Q 835.0 886.8 834.1 898.8 Q 826.4 890.3 811.0 900.5 Z" fill="#4f6478" stroke-width="1.6"/></g>
<circle cx="772.5" cy="963" r="39" fill="#ffffff" stroke="#34465c" stroke-width="2.8"/>
<g stroke="#7b2a22" stroke-width="1.4" stroke-linejoin="round" stroke-linecap="round"><path d="M 756.4,936.8 L 761.5,936.8 L 762.4,962.4 L 757.3,962.4 Z" fill="#4f97cf"/><path d="M 763.2,961.2 C 761.5,943.2 767.4,935.6 774.2,936.8 C 780.9,938.1 782.6,949.6 780.1,961.2 L 775.0,961.2 C 776.7,950.9 775.0,945.2 772.1,945.2 C 768.7,945.2 767.4,952.2 768.7,961.2 Z" fill="#e0604c"/><path d="M 766.0,938.8 L 766.0,931.7 L 768.9,931.7 L 768.9,938.8 Z" fill="#e0604c"/><path d="M 770.2,938.8 L 770.2,931.7 L 773.1,931.7 L 773.1,938.8 Z" fill="#e0604c"/><path d="M 774.4,938.8 L 774.4,931.7 L 777.4,931.7 L 777.4,938.8 Z" fill="#e0604c"/><path d="M 764.1,953.5 C 754.8,950.9 750.5,963.7 752.2,972.7 C 754.8,984.2 765.7,993.2 775.9,997.0 C 785.2,997.0 792.8,986.8 792.8,974.0 C 793.2,962.4 789.4,956.0 783.5,955.4 C 778.4,952.2 770.8,952.2 764.1,953.5 Z" fill="#e35d4a"/><path d="M 770.8,962.4 C 772.5,949.6 781.8,944.5 792.8,947.1 L 792.8,954.8 C 783.5,952.8 778.4,957.3 776.7,965.0 Z" fill="#4f97cf"/><path d="M 757.3,979.1 C 764.1,966.3 773.3,961.2 780.9,962.4" fill="none" stroke-width="1.0"/><path d="M 778.4,963.7 C 776.7,974.0 778.4,984.2 775.0,994.4 M 777.6,977.8 L 783.5,986.8" fill="none" stroke-width="1.0"/></g>
<rect x="768.7" y="866.0" width="10" height="38" rx="5" fill="#ffffff" stroke="#c8413a" stroke-width="2"/><rect x="771.7" y="876.0" width="4" height="26" fill="#d8433a"/><circle cx="773.7" cy="910.0" r="8" fill="#d8433a" stroke="#a8322c" stroke-width="1.5"/><path d="M 782.7 872.0 q 10 6 4 20" fill="none" stroke="#e6a39c" stroke-width="5" opacity="0.7"/>
<path d="M 99 1316.9 L 158.1 1298.4 L 158.1 1407 L 99.6 1417.3 Z" fill="#dbe8f4" stroke="#34465c" stroke-width="2.2"/><path d="M 110 1330 Q 116 1319 124 1322 Q 130 1326 128 1340 L 125 1352 L 114 1352 Z" fill="#9db5cf"/><path d="M 132 1318 L 152 1311 L 152 1343 L 132 1347 Z" fill="#a7bdd4"/><line x1="108.0" y1="1364.0" x2="133.0" y2="1357.0" stroke="#9fb6cf" stroke-width="3.0" stroke-linecap="butt"/><line x1="108.0" y1="1372.5" x2="133.0" y2="1366.5" stroke="#9fb6cf" stroke-width="3.0" stroke-linecap="butt"/><line x1="108.0" y1="1381.0" x2="133.0" y2="1374.0" stroke="#9fb6cf" stroke-width="3.0" stroke-linecap="butt"/><line x1="108.0" y1="1389.5" x2="133.0" y2="1383.5" stroke="#9fb6cf" stroke-width="3.0" stroke-linecap="butt"/><line x1="108.0" y1="1398.0" x2="133.0" y2="1391.0" stroke="#9fb6cf" stroke-width="3.0" stroke-linecap="butt"/><line x1="183.5" y1="1292.7" x2="183.5" y2="1380.0" stroke="#34465c" stroke-width="2.0" stroke-linecap="butt"/><rect x="174.0" y="1327.0" width="15.0" height="24.0" fill="#e8eef5" rx="3.0" stroke="#34465c" stroke-width="1.8"/><rect x="207.6" y="1294.6" width="99.2" height="66.1" fill="#2a58a6" stroke="#1c3e7c" stroke-width="2.0"/><polygon points="278.2,1324.8 278.9,1326.7 281.0,1326.8 279.4,1328.1 279.9,1330.0 278.2,1328.9 276.5,1330.0 277.0,1328.1 275.4,1326.8 277.5,1326.7" fill="#efe3a0"/><polygon points="275.3,1335.6 276.0,1337.5 278.1,1337.6 276.5,1338.9 277.0,1340.8 275.3,1339.7 273.6,1340.8 274.1,1338.9 272.5,1337.6 274.6,1337.5" fill="#efe3a0"/><polygon points="267.4,1343.5 268.1,1345.4 270.2,1345.5 268.6,1346.8 269.1,1348.8 267.4,1347.6 265.7,1348.8 266.2,1346.8 264.6,1345.5 266.7,1345.4" fill="#efe3a0"/><polygon points="256.6,1346.4 257.3,1348.3 259.4,1348.4 257.8,1349.7 258.3,1351.6 256.6,1350.5 254.9,1351.6 255.4,1349.7 253.8,1348.4 255.9,1348.3" fill="#efe3a0"/><polygon points="245.8,1343.5 246.5,1345.4 248.6,1345.5 247.0,1346.8 247.5,1348.8 245.8,1347.6 244.1,1348.8 244.6,1346.8 243.0,1345.5 245.1,1345.4" fill="#efe3a0"/><polygon points="237.9,1335.6 238.6,1337.5 240.7,1337.6 239.1,1338.9 239.6,1340.8 237.9,1339.7 236.2,1340.8 236.7,1338.9 235.1,1337.6 237.2,1337.5" fill="#efe3a0"/><polygon points="235.0,1324.8 235.7,1326.7 237.8,1326.8 236.2,1328.1 236.7,1330.0 235.0,1328.9 233.3,1330.0 233.8,1328.1 232.2,1326.8 234.3,1326.7" fill="#efe3a0"/><polygon points="237.9,1314.0 238.6,1315.9 240.7,1316.0 239.1,1317.3 239.6,1319.2 237.9,1318.1 236.2,1319.2 236.7,1317.3 235.1,1316.0 237.2,1315.9" fill="#efe3a0"/><polygon points="245.8,1306.1 246.5,1308.0 248.6,1308.1 247.0,1309.4 247.5,1311.3 245.8,1310.2 244.1,1311.3 244.6,1309.4 243.0,1308.1 245.1,1308.0" fill="#efe3a0"/><polygon points="256.6,1303.2 257.3,1305.1 259.4,1305.2 257.8,1306.5 258.3,1308.4 256.6,1307.3 254.9,1308.4 255.4,1306.5 253.8,1305.2 255.9,1305.1" fill="#efe3a0"/><polygon points="267.4,1306.1 268.1,1308.0 270.2,1308.1 268.6,1309.4 269.1,1311.3 267.4,1310.2 265.7,1311.3 266.2,1309.4 264.6,1308.1 266.7,1308.0" fill="#efe3a0"/><polygon points="275.3,1314.0 276.0,1315.9 278.1,1316.0 276.5,1317.3 277.0,1319.2 275.3,1318.1 273.6,1319.2 274.1,1317.3 272.5,1316.0 274.6,1315.9" fill="#efe3a0"/><path d="M 176 1372 Q 184 1365 190 1370 L 190 1412 L 176 1412 Z" fill="#6f8fb3" stroke="#34465c" stroke-width="1.8"/><path d="M 188 1376 Q 196 1366 206 1368 Q 214 1372 216 1390 L 214 1410 L 189 1411 Z" fill="#8fb3d4" stroke="#34465c" stroke-width="2"/><path d="M 208 1386 L 230 1394 L 246 1396 L 246 1402 L 228 1402 L 208 1396 Z" fill="#dca780" stroke="#34465c" stroke-width="1.6"/><ellipse cx="196" cy="1361" rx="8" ry="9" fill="#dca780" stroke="#34465c" stroke-width="1.8"/><path d="M 188 1360 Q 188 1349 197 1350 Q 205 1351 204 1358 Q 196 1354 188 1360 Z" fill="#5f6a78" stroke="#34465c" stroke-width="1.4"/><path d="M 166 1386 L 186 1382 L 180 1404 L 162 1406 Z" fill="#c9d7e6" stroke="#34465c" stroke-width="1.6"/><path d="M 164.4 1408 L 250.2 1405 L 250.2 1418 L 164.4 1421 Z" fill="#e6eef7" stroke="#34465c" stroke-width="2.2"/><path d="M 164.4 1421 L 247.7 1418 L 247.7 1475.7 L 164.4 1477 Z" fill="#b9cce2" stroke="#34465c" stroke-width="2.2"/><line x1="205.7" y1="1420.0" x2="205.7" y2="1476.0" stroke="#34465c" stroke-width="1.6" stroke-linecap="butt"/><rect x="192.0" y="1405.0" width="22.0" height="5.0" fill="#c9d2dc" stroke="#34465c" stroke-width="1.2"/><path d="M 131 1368 Q 138 1360 148 1361 Q 160 1363 163 1378 L 166.3 1442.7 L 130.8 1442.7 Z" fill="#f5f7f9" stroke="#34465c" stroke-width="2.2"/><path d="M 143 1362 L 148 1390 L 153 1362 Z" fill="#3f6fa5" stroke="#34465c" stroke-width="1.2"/><path d="M 155 1380 L 164 1398 L 170 1400 L 168 1404 L 160 1402 L 150 1386 Z" fill="#f5f7f9" stroke="#34465c" stroke-width="1.6"/><rect x="138.0" y="1410.0" width="13.0" height="11.0" fill="#ffffff" stroke="#34465c" stroke-width="1.4"/><path d="M 134.6 1442.7 L 148 1442.7 L 148 1475 L 135 1475 Z" fill="#4f74a0" stroke="#34465c" stroke-width="1.8"/><path d="M 149.5 1442.7 L 163.8 1442.7 L 163 1475 L 150 1475 Z" fill="#4f74a0" stroke="#34465c" stroke-width="1.8"/><path d="M 134 1475 L 149 1475 L 149 1481 L 134 1481 Z M 150 1475 L 166 1475 L 166 1481 L 150 1481 Z" fill="#6f7e90"/><ellipse cx="147.9" cy="1349" rx="8.5" ry="10" fill="#dca780" stroke="#34465c" stroke-width="1.8"/><path d="M 139.5 1347 Q 139 1336 149 1337 Q 157 1338 156.5 1346 Q 148 1341 139.5 1347 Z" fill="#48505c" stroke="#34465c" stroke-width="1.4"/><path d="M 280.7 1390 Q 285 1383 293 1384 Q 301 1386 301.5 1400 L 301.1 1428 L 278 1428 Z" fill="#e8874c" stroke="#34465c" stroke-width="2"/><path d="M 282 1398 L 286 1412 L 258 1418 L 256 1412 Z" fill="#e8a074" stroke="#34465c" stroke-width="1.6"/><ellipse cx="288.3" cy="1374.7" rx="9" ry="9.5" fill="#e8a070" stroke="#34465c" stroke-width="1.8"/><path d="M 301.1 1428 L 260 1428 Q 254 1432 256 1440 L 252 1474 L 266 1474 L 268 1440 L 300 1438 Z" fill="#7d8592" stroke="#34465c" stroke-width="1.8"/><path d="M 249 1474 L 268 1473 L 268 1480 L 248 1480 Z" fill="#5f7a98"/><path d="M 306 1392 Q 314 1384 319 1392 L 312 1440 L 304 1440 Z" fill="#6f8fb3" stroke="#34465c" stroke-width="2"/><rect x="271.8" y="1437.6" width="38.0" height="7.6" fill="#6f8fb3" rx="3.5" stroke="#34465c" stroke-width="2.0"/><line x1="290.9" y1="1445.0" x2="290.9" y2="1465.0" stroke="#34465c" stroke-width="3.0" stroke-linecap="butt"/><path d="M 275 1472 L 276 1466 L 306 1466 L 307 1472" fill="none" stroke="#34465c" stroke-width="3"/><line x1="97.0" y1="1472.6" x2="133.0" y2="1458.0" stroke="#34465c" stroke-width="2.0" stroke-linecap="butt"/><line x1="300.0" y1="1438.9" x2="321.4" y2="1438.9" stroke="#34465c" stroke-width="1.6" stroke-linecap="butt"/>
<path d="M 403.7 1359 L 512.2 1295.8 L 524.6 1302.5 L 524.6 1347.8 L 416.1 1411 L 403.7 1404 Z" fill="#bcd0e6" stroke="#2f4d74" stroke-width="2.4" stroke-linejoin="round"/><path d="M 416.1 1366 L 513.3 1309.4 L 513.3 1347.8 L 416.1 1404 Z" fill="#a6c0dc" stroke="#2f4d74" stroke-width="2" stroke-linejoin="round"/><path d="M 416.1 1411 L 481.7 1451.7 L 481.7 1465.5 L 416.1 1425.5 Z" fill="#b3c9e1" stroke="#2f4d74" stroke-width="2.4" stroke-linejoin="round"/><path d="M 481.7 1451.7 L 587.9 1388.5 L 587.9 1402 L 481.7 1465.5 Z" fill="#a3bcd8" stroke="#2f4d74" stroke-width="2.4" stroke-linejoin="round"/><path d="M 416.1 1411 L 524.6 1347.8 L 587.9 1388.5 L 481.7 1451.7 Z" fill="#e3ecf6" stroke="#2f4d74" stroke-width="2.4" stroke-linejoin="round"/><g transform="translate(446.6 1415.6) rotate(27.0)"><rect x="-13.5" y="-6.8" width="27.0" height="13.5" rx="6.8" fill="#4fa064"/><path d="M 0.0 -6.8 L -6.8 -6.8 L -6.8 6.8 L 0.0 6.8 A 6.8 6.8 0 0 1 -6.8 -6.8 Z" fill="#f1eed8"/><path d="M -6.8 -6.8 L 0.0 -6.8 L 0.0 6.8 L -6.8 6.8 Z" fill="#f1eed8"/><rect x="-8.8" y="-4.2" width="17.6" height="2.4" rx="1.1" fill="#ffffff" opacity="0.35"/><rect x="-13.5" y="-6.8" width="27.0" height="13.5" rx="6.8" fill="none" stroke="#2f4d74" stroke-width="1.7"/><line x1="0.0" y1="-6.8" x2="0.0" y2="6.8" stroke="#2f4d74" stroke-width="1.4"/></g><g transform="translate(467.0 1403.1) rotate(27.0)"><rect x="-13.5" y="-6.8" width="27.0" height="13.5" rx="6.8" fill="#4fa064"/><path d="M 0.0 -6.8 L -6.8 -6.8 L -6.8 6.8 L 0.0 6.8 A 6.8 6.8 0 0 1 -6.8 -6.8 Z" fill="#f1eed8"/><path d="M -6.8 -6.8 L 0.0 -6.8 L 0.0 6.8 L -6.8 6.8 Z" fill="#f1eed8"/><rect x="-8.8" y="-4.2" width="17.6" height="2.4" rx="1.1" fill="#ffffff" opacity="0.35"/><rect x="-13.5" y="-6.8" width="27.0" height="13.5" rx="6.8" fill="none" stroke="#2f4d74" stroke-width="1.7"/><line x1="0.0" y1="-6.8" x2="0.0" y2="6.8" stroke="#2f4d74" stroke-width="1.4"/></g><g transform="translate(487.3 1390.7) rotate(27.0)"><rect x="-13.5" y="-6.8" width="27.0" height="13.5" rx="6.8" fill="#4fa064"/><path d="M 0.0 -6.8 L -6.8 -6.8 L -6.8 6.8 L 0.0 6.8 A 6.8 6.8 0 0 1 -6.8 -6.8 Z" fill="#f1eed8"/><path d="M -6.8 -6.8 L 0.0 -6.8 L 0.0 6.8 L -6.8 6.8 Z" fill="#f1eed8"/><rect x="-8.8" y="-4.2" width="17.6" height="2.4" rx="1.1" fill="#ffffff" opacity="0.35"/><rect x="-13.5" y="-6.8" width="27.0" height="13.5" rx="6.8" fill="none" stroke="#2f4d74" stroke-width="1.7"/><line x1="0.0" y1="-6.8" x2="0.0" y2="6.8" stroke="#2f4d74" stroke-width="1.4"/></g><g transform="translate(507.7 1378.3) rotate(27.0)"><rect x="-13.5" y="-6.8" width="27.0" height="13.5" rx="6.8" fill="#5a93c4"/><path d="M 0.0 -6.8 L -6.8 -6.8 L -6.8 6.8 L 0.0 6.8 A 6.8 6.8 0 0 1 -6.8 -6.8 Z" fill="#f1eed8"/><path d="M -6.8 -6.8 L 0.0 -6.8 L 0.0 6.8 L -6.8 6.8 Z" fill="#f1eed8"/><rect x="-8.8" y="-4.2" width="17.6" height="2.4" rx="1.1" fill="#ffffff" opacity="0.35"/><rect x="-13.5" y="-6.8" width="27.0" height="13.5" rx="6.8" fill="none" stroke="#2f4d74" stroke-width="1.7"/><line x1="0.0" y1="-6.8" x2="0.0" y2="6.8" stroke="#2f4d74" stroke-width="1.4"/></g><g transform="translate(528.0 1365.9) rotate(27.0)"><rect x="-13.5" y="-6.8" width="27.0" height="13.5" rx="6.8" fill="#5a93c4"/><path d="M 0.0 -6.8 L -6.8 -6.8 L -6.8 6.8 L 0.0 6.8 A 6.8 6.8 0 0 1 -6.8 -6.8 Z" fill="#f1eed8"/><path d="M -6.8 -6.8 L 0.0 -6.8 L 0.0 6.8 L -6.8 6.8 Z" fill="#f1eed8"/><rect x="-8.8" y="-4.2" width="17.6" height="2.4" rx="1.1" fill="#ffffff" opacity="0.35"/><rect x="-13.5" y="-6.8" width="27.0" height="13.5" rx="6.8" fill="none" stroke="#2f4d74" stroke-width="1.7"/><line x1="0.0" y1="-6.8" x2="0.0" y2="6.8" stroke="#2f4d74" stroke-width="1.4"/></g><g transform="translate(477.2 1430.2) rotate(27.0)"><rect x="-13.5" y="-6.8" width="27.0" height="13.5" rx="6.8" fill="#4fa064"/><path d="M 0.0 -6.8 L -6.8 -6.8 L -6.8 6.8 L 0.0 6.8 A 6.8 6.8 0 0 1 -6.8 -6.8 Z" fill="#f1eed8"/><path d="M -6.8 -6.8 L 0.0 -6.8 L 0.0 6.8 L -6.8 6.8 Z" fill="#f1eed8"/><rect x="-8.8" y="-4.2" width="17.6" height="2.4" rx="1.1" fill="#ffffff" opacity="0.35"/><rect x="-13.5" y="-6.8" width="27.0" height="13.5" rx="6.8" fill="none" stroke="#2f4d74" stroke-width="1.7"/><line x1="0.0" y1="-6.8" x2="0.0" y2="6.8" stroke="#2f4d74" stroke-width="1.4"/></g><g transform="translate(497.5 1417.8) rotate(27.0)"><rect x="-13.5" y="-6.8" width="27.0" height="13.5" rx="6.8" fill="#4fa064"/><path d="M 0.0 -6.8 L -6.8 -6.8 L -6.8 6.8 L 0.0 6.8 A 6.8 6.8 0 0 1 -6.8 -6.8 Z" fill="#f1eed8"/><path d="M -6.8 -6.8 L 0.0 -6.8 L 0.0 6.8 L -6.8 6.8 Z" fill="#f1eed8"/><rect x="-8.8" y="-4.2" width="17.6" height="2.4" rx="1.1" fill="#ffffff" opacity="0.35"/><rect x="-13.5" y="-6.8" width="27.0" height="13.5" rx="6.8" fill="none" stroke="#2f4d74" stroke-width="1.7"/><line x1="0.0" y1="-6.8" x2="0.0" y2="6.8" stroke="#2f4d74" stroke-width="1.4"/></g><g transform="translate(517.8 1405.4) rotate(27.0)"><rect x="-13.5" y="-6.8" width="27.0" height="13.5" rx="6.8" fill="#5a93c4"/><path d="M 0.0 -6.8 L -6.8 -6.8 L -6.8 6.8 L 0.0 6.8 A 6.8 6.8 0 0 1 -6.8 -6.8 Z" fill="#f1eed8"/><path d="M -6.8 -6.8 L 0.0 -6.8 L 0.0 6.8 L -6.8 6.8 Z" fill="#f1eed8"/><rect x="-8.8" y="-4.2" width="17.6" height="2.4" rx="1.1" fill="#ffffff" opacity="0.35"/><rect x="-13.5" y="-6.8" width="27.0" height="13.5" rx="6.8" fill="none" stroke="#2f4d74" stroke-width="1.7"/><line x1="0.0" y1="-6.8" x2="0.0" y2="6.8" stroke="#2f4d74" stroke-width="1.4"/></g><g transform="translate(538.2 1393.0) rotate(27.0)"><rect x="-13.5" y="-6.8" width="27.0" height="13.5" rx="6.8" fill="#5a93c4"/><path d="M 0.0 -6.8 L -6.8 -6.8 L -6.8 6.8 L 0.0 6.8 A 6.8 6.8 0 0 1 -6.8 -6.8 Z" fill="#f1eed8"/><path d="M -6.8 -6.8 L 0.0 -6.8 L 0.0 6.8 L -6.8 6.8 Z" fill="#f1eed8"/><rect x="-8.8" y="-4.2" width="17.6" height="2.4" rx="1.1" fill="#ffffff" opacity="0.35"/><rect x="-13.5" y="-6.8" width="27.0" height="13.5" rx="6.8" fill="none" stroke="#2f4d74" stroke-width="1.7"/><line x1="0.0" y1="-6.8" x2="0.0" y2="6.8" stroke="#2f4d74" stroke-width="1.4"/></g><g transform="translate(558.5 1380.5) rotate(27.0)"><rect x="-13.5" y="-6.8" width="27.0" height="13.5" rx="6.8" fill="#5a93c4"/><path d="M 0.0 -6.8 L -6.8 -6.8 L -6.8 6.8 L 0.0 6.8 A 6.8 6.8 0 0 1 -6.8 -6.8 Z" fill="#f1eed8"/><path d="M -6.8 -6.8 L 0.0 -6.8 L 0.0 6.8 L -6.8 6.8 Z" fill="#f1eed8"/><rect x="-8.8" y="-4.2" width="17.6" height="2.4" rx="1.1" fill="#ffffff" opacity="0.35"/><rect x="-13.5" y="-6.8" width="27.0" height="13.5" rx="6.8" fill="none" stroke="#2f4d74" stroke-width="1.7"/><line x1="0.0" y1="-6.8" x2="0.0" y2="6.8" stroke="#2f4d74" stroke-width="1.4"/></g>
<g stroke="#2c3e52" stroke-width="2.4" stroke-linejoin="round" stroke-linecap="round"><rect x="676.0" y="1350.2" width="14.2" height="58.0" rx="7.1" fill="#dca780"/><rect x="729.9" y="1350.2" width="14.2" height="58.0" rx="7.1" fill="#dca780"/><path d="M 689.4 1392.5 L 730.6 1392.5 L 728.4 1476.2 Q 722.9 1479.0 716.4 1477.2 L 712.8 1406.3 L 707.2 1406.3 L 703.6 1477.2 Q 697.1 1479.0 691.6 1476.2 Z" fill="#5d81a9"/><path d="M 697.1 1327.8 Q 675.0 1330.0 675.0 1350.2 L 675.0 1359.8 L 689.4 1359.8 L 689.4 1393.6 L 730.6 1393.6 L 730.6 1359.8 L 745.0 1359.8 L 745.0 1350.2 Q 745.0 1330.0 722.9 1327.8 Q 710.0 1334.6 697.1 1327.8 Z" fill="#8badcd"/><ellipse cx="710.0" cy="1312.5" rx="14.2" ry="16.2" fill="#dca780"/><path d="M 695.8 1313.4 Q 695.3 1295.9 710.0 1296.1 Q 724.7 1295.9 724.2 1313.4 Q 721.0 1304.2 710.0 1304.2 Q 699.0 1304.2 695.8 1313.4 Z" fill="#56667a"/></g>
<g stroke="#2c3e52" stroke-width="2.4" stroke-linejoin="round" stroke-linecap="round"><rect x="734.6" y="1350.9" width="14.1" height="57.6" rx="7.0" fill="#dca780"/><rect x="788.3" y="1350.9" width="14.1" height="57.6" rx="7.0" fill="#dca780"/><path d="M 748.0 1393.0 L 789.0 1393.0 L 786.8 1476.3 Q 781.3 1479.0 774.9 1477.2 L 771.2 1406.7 L 765.8 1406.7 L 762.1 1477.2 Q 755.7 1479.0 750.2 1476.3 Z" fill="#84898f"/><path d="M 755.7 1328.6 Q 733.7 1330.8 733.7 1350.9 L 733.7 1360.4 L 748.0 1360.4 L 748.0 1394.1 L 789.0 1394.1 L 789.0 1360.4 L 803.3 1360.4 L 803.3 1350.9 Q 803.3 1330.8 781.3 1328.6 Q 768.5 1335.3 755.7 1328.6 Z" fill="#93a8be"/><ellipse cx="768.5" cy="1313.4" rx="14.1" ry="16.1" fill="#dca780"/></g>
<g stroke="#2c3e52" stroke-width="2.4" stroke-linejoin="round" stroke-linecap="round"><rect x="812.5" y="1441.8" width="10.5" height="37.2" rx="3.4" fill="#dca780"/><rect x="829.0" y="1441.8" width="11.2" height="37.2" rx="3.4" fill="#dca780"/><rect x="799.0" y="1364.1" width="8.1" height="49.0" rx="4.1" fill="#dca780"/><rect x="844.9" y="1364.1" width="8.1" height="49.0" rx="4.1" fill="#dca780"/><path d="M 804.9 1395.3 L 847.1 1395.3 L 849.3 1446.0 Q 826.0 1447.7 802.7 1446.0 Z" fill="#5d80a8"/><path d="M 816.7 1343.0 Q 799.0 1343.8 798.1 1360.7 L 797.6 1370.0 L 807.1 1370.0 L 806.1 1396.7 Q 826.0 1397.9 845.9 1396.7 L 844.9 1370.0 L 854.4 1370.0 L 853.9 1360.7 Q 853.0 1343.8 835.3 1343.0 Q 826.0 1348.0 816.7 1343.0 Z" fill="#8eabc9"/><path d="M 810.8 1338.7 Q 808.3 1309.2 826.0 1310.0 Q 843.7 1309.2 841.2 1338.7 L 836.1 1341.3 Q 826.0 1343.0 815.9 1341.3 Z" fill="#66768a"/><ellipse cx="826.0" cy="1328.6" rx="10.5" ry="13.2" fill="#dca780"/><path d="M 814.2 1330.3 Q 815.9 1313.4 827.7 1314.2 Q 837.8 1316.8 837.0 1328.6 Q 829.4 1320.1 814.2 1330.3 Z" fill="#66768a" stroke-width="1.6"/></g>
<circle cx="767.5" cy="1390.7" r="38.4" fill="#ffffff" stroke="#34465c" stroke-width="2.8"/>
<g stroke="#7b2a22" stroke-width="1.4" stroke-linejoin="round" stroke-linecap="round"><path d="M 752.0,1365.7 L 756.9,1365.7 L 757.7,1390.5 L 752.8,1390.5 Z" fill="#4f97cf"/><path d="M 758.5,1389.3 C 756.9,1371.9 762.6,1364.5 769.1,1365.7 C 775.7,1367.0 777.3,1378.1 774.9,1389.3 L 770.0,1389.3 C 771.6,1379.4 770.0,1373.8 767.1,1373.8 C 763.8,1373.8 762.6,1380.6 763.8,1389.3 Z" fill="#e0604c"/><path d="M 761.2,1367.6 L 761.2,1360.8 L 764.0,1360.8 L 764.0,1367.6 Z" fill="#e0604c"/><path d="M 765.2,1367.6 L 765.2,1360.8 L 768.1,1360.8 L 768.1,1367.6 Z" fill="#e0604c"/><path d="M 769.3,1367.6 L 769.3,1360.8 L 772.2,1360.8 L 772.2,1367.6 Z" fill="#e0604c"/><path d="M 759.3,1381.8 C 750.3,1379.4 746.2,1391.8 747.9,1400.4 C 750.3,1411.6 761.0,1420.3 770.8,1424.0 C 779.8,1424.0 787.1,1414.1 787.1,1401.7 C 787.6,1390.5 783.9,1384.3 778.1,1383.7 C 773.2,1380.6 765.9,1380.6 759.3,1381.8 Z" fill="#e35d4a"/><path d="M 765.9,1390.5 C 767.5,1378.1 776.5,1373.2 787.1,1375.6 L 787.1,1383.1 C 778.1,1381.2 773.2,1385.6 771.6,1393.0 Z" fill="#4f97cf"/><path d="M 752.8,1406.6 C 759.3,1394.2 768.3,1389.3 775.7,1390.5" fill="none" stroke-width="1.0"/><path d="M 773.2,1391.8 C 771.6,1401.7 773.2,1411.6 770.0,1421.5 M 772.4,1405.4 L 778.1,1414.1" fill="none" stroke-width="1.0"/></g>
</svg>
<div class="t" style="left:84.54px;top:78.86px;font-size:70.80px;transform:scaleX(0.8388);-webkit-text-stroke:2.61px;letter-spacing:1.42px"><span style="font-weight:bold;color:#141414">NATTOKINASE BLOOD PRESSURE TRIALS: COMPARATIVE CLINICAL DATA</span></div>
<div class="t" style="left:500.42px;top:158.11px;font-size:63.09px;transform:scaleX(0.8628);-webkit-text-stroke:0.97px"><span style="font-weight:normal;color:#161616">Analysis of Systolic (SBP) and Diastolic (DBP) Reductions</span></div>
<div class="t" style="left:1788.46px;top:263.12px;font-size:40.50px;transform:scaleX(0.8030)"><span style="font-weight:bold;color:#2d6cac;-webkit-text-stroke:1.42px">Blue:</span><span style="font-weight:normal;color:#141414"> Systolic Blood Pressure (SBP)</span></div>
<div class="t" style="left:1753.77px;top:307.32px;font-size:40.50px;transform:scaleX(0.8009)"><span style="font-weight:bold;color:#3d9461;-webkit-text-stroke:1.42px">Green:</span><span style="font-weight:normal;color:#141414"> Diastolic Blood Pressure (DBP)</span></div>
<div class="t" style="left:95.75px;top:325.17px;font-size:50.21px;transform:scaleX(0.8112);-webkit-text-stroke:1.85px;letter-spacing:1.00px"><span style="font-weight:bold;color:#141414">TRIAL 1: KIM ET AL. (2008)</span></div>
<div class="t" style="left:278.14px;top:380.98px;font-size:38.54px;transform:scaleX(0.8556);-webkit-text-stroke:0.59px"><span style="font-weight:normal;color:#141414">n = 86 (Randomized)</span></div>
<div class="t" style="left:91.99px;top:656.05px;font-size:38.44px;transform:scaleX(0.7811);-webkit-text-stroke:1.42px;letter-spacing:0.77px"><span style="font-weight:bold;color:#141414">Korean research</span></div>
<div class="t" style="left:404.06px;top:623.63px;font-size:38.34px;transform:scaleX(0.8053);-webkit-text-stroke:1.41px;letter-spacing:0.77px"><span style="font-weight:bold;color:#141414">Nattokinase</span></div>
<div class="t" style="left:383.06px;top:662.48px;font-size:39.13px;transform:scaleX(0.8488);-webkit-text-stroke:0.60px"><span style="font-weight:normal;color:#141414">(2,000 FU/day)</span></div>
<div class="t" style="left:632.92px;top:633.07px;font-size:37.49px;transform:scaleX(0.8227);-webkit-text-stroke:1.38px;letter-spacing:0.75px"><span style="font-weight:bold;color:#141414">Pre-hypertension</span></div>
<div class="t" style="left:701.91px;top:668.07px;font-size:37.49px;transform:scaleX(0.8339);-webkit-text-stroke:1.38px;letter-spacing:0.75px"><span style="font-weight:bold;color:#141414">patients</span></div>
<div class="t" style="left:95.92px;top:756.17px;font-size:50.21px;transform:scaleX(0.7821);-webkit-text-stroke:1.85px;letter-spacing:1.00px"><span style="font-weight:bold;color:#141414">TRIAL 2: JENSEN ET AL. (2016)</span></div>
<div class="t" style="left:340.33px;top:812.08px;font-size:38.54px;transform:scaleX(0.8621);-webkit-text-stroke:0.59px"><span style="font-weight:normal;color:#141414">n = 79 (Enrolled)</span></div>
<div class="t" style="left:95.93px;top:1063.17px;font-size:37.49px;transform:scaleX(0.8182);-webkit-text-stroke:1.38px;letter-spacing:0.75px"><span style="font-weight:bold;color:#141414">North American</span></div>
<div class="t" style="left:159.38px;top:1100.00px;font-size:38.64px;transform:scaleX(0.8843);-webkit-text-stroke:0.59px"><span style="font-weight:normal;color:#141414">context</span></div>
<div class="t" style="left:404.06px;top:1049.63px;font-size:38.34px;transform:scaleX(0.8071);-webkit-text-stroke:1.41px;letter-spacing:0.77px"><span style="font-weight:bold;color:#141414">Nattokinase</span></div>
<div class="t" style="left:392.50px;top:1086.08px;font-size:39.13px;transform:scaleX(0.8811);-webkit-text-stroke:0.60px"><span style="font-weight:normal;color:#141414">(100 mg/day)</span></div>
<div class="t" style="left:666.93px;top:1062.17px;font-size:37.49px;transform:scaleX(0.8188);-webkit-text-stroke:1.38px;letter-spacing:0.75px"><span style="font-weight:bold;color:#141414">Patients with</span></div>
<div class="t" style="left:652.95px;top:1098.37px;font-size:37.49px;transform:scaleX(0.8027);-webkit-text-stroke:1.38px;letter-spacing:0.75px"><span style="font-weight:bold;color:#141414">blood pressure</span></div>
<div class="t" style="left:95.90px;top:1183.37px;font-size:50.21px;transform:scaleX(0.7608);-webkit-text-stroke:1.85px;letter-spacing:1.00px"><span style="font-weight:bold;color:#141414">TRIAL 3: HERNÁNDEZ ET AL.</span></div>
<div class="t" style="left:664.06px;top:1196.59px;font-size:35.61px;transform:scaleX(0.8337);-webkit-text-stroke:0.55px"><span style="font-weight:normal;color:#141414">(Illustrative Data)</span></div>
<div class="t" style="left:336.51px;top:1239.58px;font-size:38.54px;transform:scaleX(0.8731);-webkit-text-stroke:0.59px"><span style="font-weight:normal;color:#141414">n = 110 (Recruited)</span></div>
<div class="t" style="left:144.46px;top:1492.87px;font-size:37.49px;transform:scaleX(0.7972);-webkit-text-stroke:1.38px;letter-spacing:0.75px"><span style="font-weight:bold;color:#141414">European</span></div>
<div class="t" style="left:78.84px;top:1525.30px;font-size:38.64px;transform:scaleX(0.8002);-webkit-text-stroke:0.59px"><span style="font-weight:normal;color:#141414">clinical environment</span></div>
<div class="t" style="left:404.06px;top:1476.63px;font-size:38.34px;transform:scaleX(0.8071);-webkit-text-stroke:1.41px;letter-spacing:0.77px"><span style="font-weight:bold;color:#141414">Nattokinase</span></div>
<div class="t" style="left:383.06px;top:1515.38px;font-size:39.13px;transform:scaleX(0.8488);-webkit-text-stroke:0.60px"><span style="font-weight:normal;color:#141414">(3,000 FU/day)</span></div>
<div class="t" style="left:702.92px;top:1492.87px;font-size:37.49px;transform:scaleX(0.8262);-webkit-text-stroke:1.38px;letter-spacing:0.75px"><span style="font-weight:bold;color:#141414">Patients</span></div>
<div class="t" style="left:127.13px;top:1609.65px;font-size:39.40px;transform:scaleX(0.8179)"><span style="font-weight:bold;color:#2d6cac;-webkit-text-stroke:1.38px">Blue</span><span style="font-weight:normal;color:#141414">: Systolic Blood Pressure (SBP)</span></div>
<div class="t" style="left:127.95px;top:1655.35px;font-size:39.40px;transform:scaleX(0.8155)"><span style="font-weight:bold;color:#3d9461;-webkit-text-stroke:1.38px">Green</span><span style="font-weight:normal;color:#141414">: Diastolic Blood Pressure (DBP)</span></div>
<div class="t" style="left:64.10px;top:1741.18px;font-size:30.81px;transform:scaleX(0.8606);-webkit-text-stroke:0.47px"><span style="font-weight:normal;color:#141414">*All data shown are examples for comparative illustration and do not represent specific final outcomes of these referenced studies, which may vary. Consult actual publications for precise values.</span></div>
<div class="t" style="left:901.49px;top:1600.40px;font-size:44.02px;transform:scaleX(0.7762);-webkit-text-stroke:0.67px"><span style="font-weight:normal;color:#141414">0</span></div>
<div class="t" style="left:1065.61px;top:1600.40px;font-size:44.02px;transform:scaleX(0.8841);-webkit-text-stroke:0.67px"><span style="font-weight:normal;color:#141414">-1</span></div>
<div class="t" style="left:1237.31px;top:1600.40px;font-size:44.02px;transform:scaleX(0.8841);-webkit-text-stroke:0.67px"><span style="font-weight:normal;color:#141414">-2</span></div>
<div class="t" style="left:1409.01px;top:1600.40px;font-size:44.02px;transform:scaleX(0.8841);-webkit-text-stroke:0.67px"><span style="font-weight:normal;color:#141414">-3</span></div>
<div class="t" style="left:1580.73px;top:1600.40px;font-size:44.02px;transform:scaleX(0.8610);-webkit-text-stroke:0.67px"><span style="font-weight:normal;color:#141414">-4</span></div>
<div class="t" style="left:1752.41px;top:1600.40px;font-size:44.02px;transform:scaleX(0.8841);-webkit-text-stroke:0.67px"><span style="font-weight:normal;color:#141414">-5</span></div>
<div class="t" style="left:1924.11px;top:1600.40px;font-size:44.02px;transform:scaleX(0.8841);-webkit-text-stroke:0.67px"><span style="font-weight:normal;color:#141414">-6</span></div>
<div class="t" style="left:2095.81px;top:1600.40px;font-size:44.02px;transform:scaleX(0.8841);-webkit-text-stroke:0.67px"><span style="font-weight:normal;color:#141414">-7</span></div>
<div class="t" style="left:2267.51px;top:1600.40px;font-size:44.02px;transform:scaleX(0.8841);-webkit-text-stroke:0.67px"><span style="font-weight:normal;color:#141414">-8</span></div>
<div class="t" style="left:1422.93px;top:1655.11px;font-size:47.60px;transform:scaleX(0.8186)"><span style="font-weight:bold;color:#141414;-webkit-text-stroke:1.67px">Reductions</span><span style="font-weight:normal;color:#141414"> (mmHg)</span></div>
<div class="t" style="left:1511.88px;top:438.70px;font-size:46.13px;transform:scaleX(0.8136);-webkit-text-stroke:1.70px;letter-spacing:0.92px"><span style="font-weight:bold;color:#f4f8f6">SBP: -5.55 mmHg</span></div>
<div class="t" style="left:1009.24px;top:575.60px;font-size:46.13px;transform:scaleX(0.8175);-webkit-text-stroke:1.70px;letter-spacing:0.92px"><span style="font-weight:bold;color:#f4f8f6">DBP: -2.84 mmHg</span></div>
<div class="t" style="left:1386.67px;top:580.36px;font-size:37.86px;transform:scaleX(0.8360);-webkit-text-stroke:0.58px"><span style="font-weight:normal;color:#141414">(SBP: -5 mmHg)</span></div>
<div class="t" style="left:969.93px;top:864.48px;font-size:45.50px;transform:scaleX(0.8358)"><span style="font-weight:bold;color:#2d5e92;-webkit-text-stroke:1.59px">SBP:</span><span style="font-weight:normal;color:#141414"> NS (No Significant Difference)</span></div>
<div class="t" style="left:1078.26px;top:999.60px;font-size:46.13px;transform:scaleX(0.8113);-webkit-text-stroke:1.70px;letter-spacing:0.92px"><span style="font-weight:bold;color:#f4f8f6">DBP: -3.0 mmHg</span></div>
<div class="t" style="left:1429.57px;top:1003.66px;font-size:37.86px;transform:scaleX(0.8384);-webkit-text-stroke:0.58px"><span style="font-weight:normal;color:#141414">(DBP: 40 mmHg)</span></div>
<div class="t" style="left:1259.68px;top:1285.60px;font-size:46.13px;transform:scaleX(0.8125);-webkit-text-stroke:1.70px;letter-spacing:0.92px"><span style="font-weight:bold;color:#f4f8f6">SBP: -4.1 mmHg</span></div>
<div class="t" style="left:1035.76px;top:1422.60px;font-size:46.13px;transform:scaleX(0.8113);-webkit-text-stroke:1.70px;letter-spacing:0.92px"><span style="font-weight:bold;color:#f4f8f6">DBP: -2.5 mmHg</span></div>
<div class="t" style="left:1383.15px;top:1426.66px;font-size:37.86px;transform:scaleX(0.8477);-webkit-text-stroke:0.58px"><span style="font-weight:normal;color:#141414">(DBP -25 mmHg)</span></div>
<div class="t" style="left:2029.04px;top:393.94px;font-size:29.90px;transform:scaleX(0.8016);-webkit-text-stroke:1.10px;letter-spacing:0.60px"><span style="font-weight:bold;color:#141414">Baseline vs. 8 Weeks</span></div>
<div class="t" style="left:2045.72px;top:563.63px;font-size:29.35px;transform:scaleX(0.8314);-webkit-text-stroke:0.45px"><span style="font-weight:normal;color:#141414">Baseline vs. 8 Weeks</span></div>
<div class="t" style="left:2031.64px;top:622.04px;font-size:30.94px;transform:scaleX(0.8103);-webkit-text-stroke:1.14px;letter-spacing:0.62px"><span style="font-weight:bold;color:#141414">Key Findings:</span></div>
<div class="t" style="left:2031.24px;top:656.00px;font-size:29.74px;transform:scaleX(0.8809);-webkit-text-stroke:0.46px"><span style="font-weight:normal;color:#141414">Pre-pre-hypertension</span></div>
<div class="t" style="left:2028.44px;top:790.94px;font-size:29.90px;transform:scaleX(0.8035);-webkit-text-stroke:1.10px;letter-spacing:0.60px"><span style="font-weight:bold;color:#141414">Baseline vs. 8 Weeks</span></div>
<div class="t" style="left:2045.52px;top:978.43px;font-size:29.35px;transform:scaleX(0.8321);-webkit-text-stroke:0.45px"><span style="font-weight:normal;color:#141414">Baseline vs. 8 Weeks</span></div>
<div class="t" style="left:2031.64px;top:1028.74px;font-size:30.94px;transform:scaleX(0.8103);-webkit-text-stroke:1.14px;letter-spacing:0.62px"><span style="font-weight:bold;color:#141414">Key Findings:</span></div>
<div class="t" style="left:2032.15px;top:1059.40px;font-size:29.74px;transform:scaleX(0.8454);-webkit-text-stroke:0.46px"><span style="font-weight:normal;color:#141414">Compared patients with</span></div>
<div class="t" style="left:2032.16px;top:1086.60px;font-size:29.74px;transform:scaleX(0.8325);-webkit-text-stroke:0.46px"><span style="font-weight:normal;color:#141414">elevated blood pressure</span></div>
<div class="t" style="left:2021.34px;top:1214.94px;font-size:29.90px;transform:scaleX(0.8040);-webkit-text-stroke:1.10px;letter-spacing:0.60px"><span style="font-weight:bold;color:#141414">Baseline vs. 12 Weeks</span></div>
<div class="t" style="left:2045.23px;top:1394.93px;font-size:29.35px;transform:scaleX(0.8301);-webkit-text-stroke:0.45px"><span style="font-weight:normal;color:#141414">Baseline vs. 12 Weeks</span></div>
<div class="t" style="left:2031.64px;top:1430.24px;font-size:30.94px;transform:scaleX(0.8103);-webkit-text-stroke:1.14px;letter-spacing:0.62px"><span style="font-weight:bold;color:#141414">Key Findings:</span></div>
<div class="t" style="left:2032.20px;top:1461.20px;font-size:29.74px;transform:scaleX(0.7818);-webkit-text-stroke:0.46px"><span style="font-weight:normal;color:#141414">(Data illustrative to create</span></div>
<div class="t" style="left:2032.20px;top:1488.80px;font-size:29.74px;transform:scaleX(0.7755);-webkit-text-stroke:0.46px"><span style="font-weight:normal;color:#141414">a balanced comparison</span></div>
<div class="t" style="left:2032.20px;top:1516.80px;font-size:29.74px;transform:scaleX(0.7804);-webkit-text-stroke:0.46px"><span style="font-weight:normal;color:#141414">of realistic  trends.)</span></div>
<div class="t" style="left:2039.78px;top:524.90px;font-size:29.00px;transform-origin:0 0;transform:translate(0,0) rotate(-90deg) translate(-1.24px,-24.55px) scaleX(0.7979);-webkit-text-stroke:0.90px"><span style="font-weight:normal;color:#141414">Drata</span></div>
<div class="t" style="left:2039.78px;top:939.40px;font-size:29.00px;transform-origin:0 0;transform:translate(0,0) rotate(-90deg) translate(-1.27px,-24.55px) scaleX(0.8191);-webkit-text-stroke:0.90px"><span style="font-weight:normal;color:#141414">Drata</span></div>
<div class="t" style="left:2039.78px;top:1354.40px;font-size:29.00px;transform-origin:0 0;transform:translate(0,0) rotate(-90deg) translate(-1.28px,-24.55px) scaleX(0.8262);-webkit-text-stroke:0.90px"><span style="font-weight:normal;color:#141414">Drata</span></div>
</body></html>
